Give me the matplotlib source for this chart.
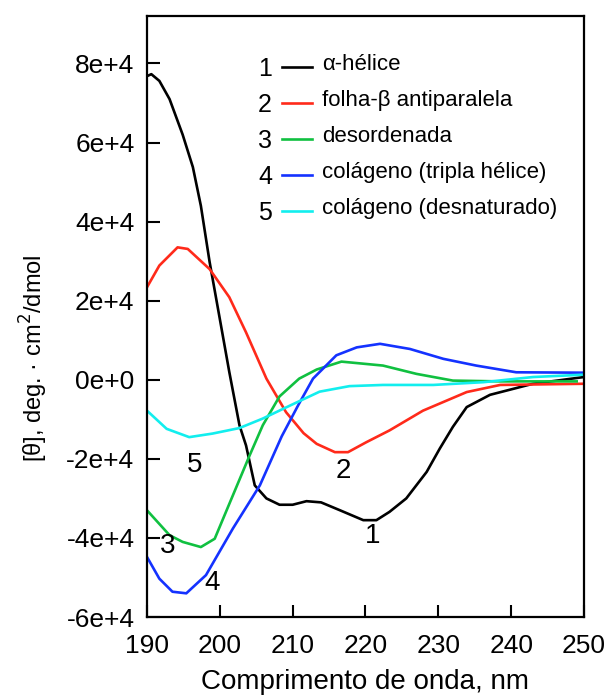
import numpy as np
import matplotlib
matplotlib.use('Agg')
import matplotlib.pyplot as plt

plt.rcParams['font.family'] = ['Liberation Sans', 'DejaVu Sans']

# curve 1: alpha-helix
x1 = [190, 190.6, 191.7, 193.1, 194.9, 196.3, 197.4, 198.6, 200.0, 201.3, 202.7, 203.6,
      204.8, 206.4, 208.2, 210.0, 211.9, 213.9, 216.5, 219.7, 221.5, 223.3, 225.6, 228.4,
      230.2, 232.0, 233.9, 237.1, 243.0, 250]
y1 = [7.68, 7.73, 7.56, 7.1, 6.2, 5.38, 4.4, 2.98, 1.54, 0.2, -1.15, -1.66,
      -2.67, -3.0, -3.16, -3.16, -3.07, -3.1, -3.3, -3.55, -3.55, -3.34, -3.0, -2.33,
      -1.74, -1.19, -0.69, -0.38, -0.1, 0.07]

# curve 2: antiparallel beta sheet
x2 = [190, 191.7, 194.2, 195.6, 198.6, 201.3, 203.6, 206.4, 209.1, 211.5, 213.3, 215.8,
      217.6, 220.1, 223.3, 227.9, 233.9, 238.5, 250]
y2 = [2.34, 2.89, 3.35, 3.31, 2.8, 2.09, 1.2, 0.03, -0.82, -1.35, -1.62, -1.83,
      -1.83, -1.58, -1.28, -0.78, -0.31, -0.13, -0.1]

# curve 3: disordered
x3 = [190, 193.1, 194.9, 197.4, 199.3, 201.8, 204.1, 205.9, 208.2, 210.9, 213.3, 216.7,
      222.4, 227.0, 232.0, 238.5, 249]
y3 = [-3.3, -3.93, -4.1, -4.23, -4.02, -2.92, -1.91, -1.15, -0.42, 0.03, 0.26, 0.46,
      0.36, 0.15, -0.02, -0.04, -0.04]

# curve 4: collagen (triple helix)
x4 = [190, 191.7, 193.5, 195.4, 198.1, 201.8, 205.5, 208.5, 210.8, 212.8, 216.0, 218.8,
      222.0, 226.1, 230.7, 235.2, 240.7, 250]
y4 = [-4.48, -5.03, -5.36, -5.4, -4.94, -3.76, -2.67, -1.43, -0.63, 0.03, 0.62, 0.82,
      0.91, 0.78, 0.53, 0.36, 0.19, 0.18]

# curve 5: collagen (denatured)
x5 = [190, 192.7, 195.8, 199.0, 202.7, 205.9, 210.0, 213.7, 217.8, 222.4, 229.3, 236.2,
      243.0, 250]
y5 = [-0.78, -1.24, -1.45, -1.36, -1.22, -0.98, -0.62, -0.3, -0.16, -0.13, -0.13, -0.06,
      0.07, 0.13]

names = ['α-hélice', 'folha-β antiparalela', 'desordenada',
         'colágeno (tripla hélice)', 'colágeno (desnaturado)']
colors = ['black', '#ff2a1a', '#10c040', '#1432ff', '#12eeee']

# curve number labels (x, y in data units of 1e4)
lab_x = [221.0, 216.9, 192.8, 199.0, 196.5]
lab_y = [-3.95, -2.3, -4.2, -5.15, -2.15]

yticks = [8, 6, 4, 2, 0, -2, -4, -6]
ytick_labels = ['8e+4', '6e+4', '4e+4', '2e+4', '0e+0', '-2e+4', '-4e+4', '-6e+4']
xticks = [190, 200, 210, 220, 230, 240, 250]

fig = plt.figure(figsize=(6.16, 6.98), dpi=100)
ax = fig.add_axes([0.2386, 0.116, 0.7094, 0.861])

series = [(x1, y1), (x2, y2), (x3, y3), (x4, y4), (x5, y5)]
for (xs, ys), c in zip(series, colors):
    ax.plot(xs, np.array(ys) * 1e4, color=c, lw=1.9)

for i in range(5):
    ax.text(lab_x[i], lab_y[i] * 1e4, str(i + 1), fontsize=20, ha='center', va='center')

# hand-made legend
for i in range(5):
    yy = 0.915 - i * 0.06
    ax.text(0.27, yy - 0.003, str(i + 1), transform=ax.transAxes, fontsize=18, ha='center', va='center')
    ax.plot([0.309, 0.378], [yy, yy], transform=ax.transAxes, color=colors[i], lw=1.9)
    ax.text(0.40, yy + 0.004, names[i], transform=ax.transAxes, fontsize=16, ha='left', va='center')

ax.set_xlim(190, 250)
ax.set_ylim(-6e4, 9.2e4)
ax.set_yticks([v * 1e4 for v in yticks])
ax.set_yticklabels(ytick_labels)
ax.set_xticks(xticks)
ax.set_xticklabels([str(v) for v in xticks])
ax.tick_params(direction='in', length=9, width=1.5, labelsize=19, pad=9)
ax.tick_params(axis='x', pad=12)
for s in ax.spines.values():
    s.set_linewidth(1.6)

ax.set_xlabel('Comprimento de onda, nm', fontsize=20, labelpad=8)
ax.set_ylabel('[θ], deg. · cm$^2$/dmol', fontsize=17)
ax.yaxis.set_label_coords(-0.222, 0.43)

fig.savefig('out.png', dpi=100)
